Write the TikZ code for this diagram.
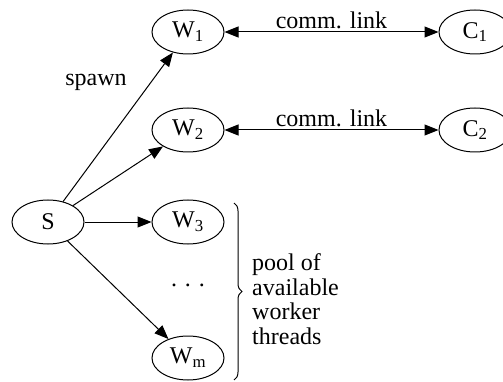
\documentclass[tikz,border=0pt]{standalone}
\usepackage{fontspec}
\setmainfont{Liberation Serif}
\usetikzlibrary{arrows.meta,decorations.pathreplacing,shapes.geometric}
\begin{document}
\begin{tikzpicture}[x=1pt,y=-1pt,
  every node/.style={font=\rmfamily\fontsize{24}{27}\selectfont},
  proc/.style={draw,ellipse,line width=1pt,minimum width=72pt,minimum height=44pt,inner sep=0pt},
  arr/.style={line width=1pt,-{Triangle[length=14pt,width=11pt]}},
  darr/.style={line width=1pt,{Triangle[length=14pt,width=11pt]}-{Triangle[length=14pt,width=11pt]}}]
\useasboundingbox (0,0) rectangle (503,382);
\node[proc] (S) at (48,222) {S};
\node[proc] (W1) at (188,32) {W\textsubscript{1}};
\node[proc] (W2) at (188,130) {W\textsubscript{2}};
\node[proc] (W3) at (188,222) {W\textsubscript{3}};
\node[proc] (Wm) at (188,358) {W\textsubscript{m}};
\node[proc] (C1) at (475,32) {C\textsubscript{1}};
\node[proc] (C2) at (475,130) {C\textsubscript{2}};
\node (dots) at (188,285) {.\hspace{8pt}.\hspace{8pt}.};
\draw[arr] (S) -- (W1);
\draw[arr] (S) -- (W2);
\draw[arr] (S) -- (W3);
\draw[arr] (S) -- (Wm);
\draw[darr] (W1) -- node[above=-1pt] (l1) {comm. link} (C1);
\draw[darr] (W2) -- node[above=-1pt] (l2) {comm. link} (C2);
\node (sp) at (96,82) {spawn};
\coordinate (bt) at (234,203);
\coordinate (bb) at (234,380);
\draw[line width=1pt,decorate,decoration={brace,amplitude=8pt}] (bt) -- (bb);
\node[anchor=west,align=left,inner sep=0pt,font=\rmfamily\fontsize{24}{24.5}\selectfont] (pool) at (252,299) {pool of\\available\\worker\\threads};
\end{tikzpicture}
\end{document}
